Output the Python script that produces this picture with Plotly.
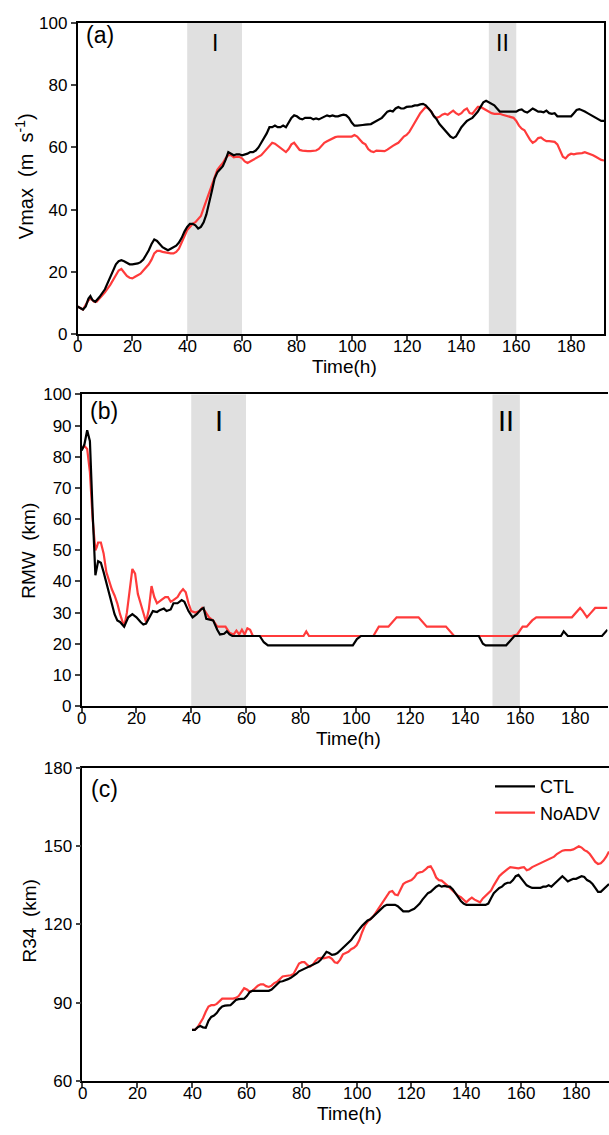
import plotly.graph_objects as go

# ---------------- Data ----------------
# Panel (a) Vmax (m/s)
a_ctl_t = [0,1,2,3,4,4.7,5.5,6.5,8,10,11,12,13,14,15,16,17,18,19,20,22,23,24,25,26,27,28,29,30,31,32,33,34,35,36,37,38,39,40,41,42,43,44,45,46,47,48,49,50,51,52,53,54,55,56,57,58,59,60,62,63,64,65,66,67,68,69,70,71,72,73,74,75,76,77,78,79,80,81,82,83,84,85,86,87,88,89,90,91,92,93,94,95,96,97,98,99,100,101,102,103,104,105,106,107,108,109,110,111,112,113,114,115,116,117,118,119,120,121,122,123,124,125,126,127,128,129,130,131,132,133,134,135,136,137,138,139,140,141,142,143,144,145,146,147,148,149,150,151,152,153,154,155,157,159,160,161,162,163,164,165,166,167,168,169,170,171,172,173,174,175,176,177,178,179,180,181,182,183,184,185,186,187,188,189,190,191,192]
a_ctl_v = [9,8.5,8,9,11.5,12.3,11,10.5,12,14.5,16.5,18.5,20.5,22.5,23.5,23.8,23.5,23,22.5,22.5,22.8,23.2,24,25.5,27,29,30.5,30,29,28,27.5,27,27.5,28,28.5,29.5,31,33,34.5,35.5,35.5,35,34,34.5,36,38.5,42,46,50,52,53,54,56,58.5,58,57.5,57.8,57.8,57.5,58,58.5,58.5,59,60,61.5,63,64.5,66.5,66.5,67,66.5,66.5,67,66.5,68,69.5,70.3,70,69.3,69,69.5,69.5,69.5,69,69.3,69,69.5,70,70.3,70,70.3,70,70,70.3,70.5,70.3,69.5,68,67,67,67.2,67.2,67.3,67.5,67.5,68,68.5,69,69.5,70.5,71.5,71.8,71.5,72.5,73,72.5,72.5,73,73,73.2,73.5,73.5,73.8,74,73.5,72.5,71.5,70,69,67.5,66.5,65.5,64.5,63.5,63,63.5,65,66.5,67.5,68.5,69,69.5,70.5,71.5,73,74.5,75,74.5,74,73.5,72.5,71.5,71.5,71.5,71.5,71.5,72,72.2,71.5,71.2,71.8,72.5,72,71.5,71.5,71.3,71.8,71,70.8,71,70,70,70,70.2,70,70,71,72,72.3,72,71.5,71,70.5,70,69.5,69,68.5,68.5]
a_noadv_t = [0,1,2,3,4,5,6,7,8,10,12,14,15,16,17,18,19,20,21,22,23,24,25,26,27,28,29,30,31,32,33,34,35,36,37,38,39,40,41,42,43,44,45,46,47,48,49,50,51,52,53,54,55,56,57,58,59,60,61,62,63,64,65,66,67,68,69,70,71,72,73,74,75,76,77,78,79,80,81,82,83,84,85,86,87,88,89,90,91,92,93,94,95,96,97,98,99,100,101,102,103,104,105,106,107,108,109,110,111,112,113,114,115,116,117,118,119,120,121,122,123,124,125,126,127,128,129,130,131,132,133,134,135,136,137,138,139,140,141,142,143,144,145,146,147,148,149,150,151,152,153,154,155,156,157,158,159,160,161,162,163,164,165,166,167,168,169,170,171,172,173,174,175,176,177,178,179,180,181,182,183,184,185,186,187,188,189,190,191,192]
a_noadv_v = [9,8.5,8,9.5,11,11.5,10.5,10.5,11.5,13.5,16,19,20.5,21,20,18.8,18.2,18,18.5,19,19.5,20.5,21.5,22.5,24,26,26.8,26.8,26.5,26.3,26.2,26,26,26.5,27.5,29.5,32,33.5,34.5,35.5,36,37,38,40.5,43,45.5,48,50.5,52.8,54,55,56.5,57.5,57.5,56.8,57,57,56.5,55.5,55,55.5,56,56.5,57,57.5,58.5,59.5,60.5,61.5,61.2,60.5,59.8,59,58.5,59.5,61,61.5,60.5,59.2,59,58.8,58.8,58.8,58.8,59,59.5,60.5,61.5,62,62.5,63,63.3,63.5,63.4,63.5,63.5,63.6,63.5,64,63.5,62.5,61.5,61,59.5,58.8,58.5,59,59,58.8,58.8,59.3,60,60.5,61,61.5,62.5,63.5,64,65,66.5,68,69.5,71,72,73,72.5,71.5,70,69.5,69.8,70.5,70.8,70.5,71.2,71.8,71,70.5,71,72,72.5,71,70.8,72,73,73,72.5,72,71.5,71,70.8,70.8,70.8,70.5,70.2,70,69.8,69.5,68.5,67,66,65.5,64,62.5,61.5,62,63,63.2,62.5,62,62,62,61.8,61,59,57,56.5,57.5,58,57.8,58,58,58.2,58.5,58.2,57.8,57.5,57,56.5,56,55.8]

# Panel (b) RMW (km)
b_ctl_t = [0,1,2,3,4,5,6,7,8,10,12,13,14,15.5,17,18.5,20,21.5,22.5,23.5,25,26,27.5,28.5,30,31,32.5,33.5,35,36.5,37.5,39,40.5,42,43.5,44.5,45.5,47,48,49.5,50.5,52,53,54,55,65,66.5,68,99,100.5,102,145,146.5,147.5,155,156.5,158,175,176,177.5,190,192]
b_ctl_v = [82,84,88.5,85,62,42,46.5,46,43,36,29.5,27.5,27,25.5,28.5,29.5,28.5,27,26.2,26.5,29,30.5,30.2,30.8,31.3,30.5,31,33,33,34,33.5,30.5,28.5,29.5,31,31.5,28,27.8,27.5,24.5,23,23.2,24,23,22.5,22.5,20.5,19.5,19.5,21.5,22.5,22.5,20,19.5,19.5,21,22.5,22.5,24,22.5,22.5,24.5]
b_noadv_t = [0,1,2,3,4,5,5.5,6,7,8,9,10,11,12,13,14,15.5,16.5,17.5,18.5,19.5,20.5,21.5,22.5,23.5,24.5,25.5,26.5,27.5,29,30.5,31.5,32.5,33.5,35,36,37,38,39,40,41.5,43,44,45,46.5,48,49.5,51,52.5,54,55.5,56.5,57.5,58.5,59.5,60.5,61.5,62.5,81,82,83,106.5,108.5,112,115,123,126,133,136,157,159,161,162.5,164.5,166,179,180.5,182,183,184.5,186,187.5,192]
b_noadv_v = [82.5,83.5,82.5,75,60,50,51,52.5,52.5,49,43,40,37.5,35.5,33,29.5,25.5,30,38,44,42.5,36,33,30,27,31,38.5,35,33,34,35,35,33.5,34,35,36.5,37.5,36.5,33,30.5,30,30.5,31.5,30.5,28.5,27.5,25.5,25.5,25.5,23.5,23,24.2,23,24.5,23,25,24.5,22.5,22.5,24,22.5,22.5,25.5,25.5,28.5,28.5,25.5,25.5,22.5,22.5,23,25.5,25.5,27.5,28.5,28.5,30,31.5,30.5,28.5,30,31.5,31.5]

# Panel (c) R34 (km)
c_ctl_t = [40,41,42,43,44,45,46,47,48,49,50,51,52,53,54,55,56,57,58,59,60,61,62,63,65,67,68,69,70,71,72,73,74,75,76,77,78,79,80,81,82,83,84,85,86,87,88,89,90,91,92,93,94,95,96,97,98,99,100,101,102,103,104,105,106,107,108,109,110,111,112,113,114,115,116,117,118,119,120,121,122,123,124,125,126,127,128,129,130,131,132,133,134,135,136,137,138,139,140,147,148,149,150,151,152,153,154,155,156,157,158,159,160,161,162,163,164,165,166,167,168,169,170,171,172,173,174,175,176,177,178,179,180,181,182,183,184,185,186,187,188,189,190,191,192]
c_ctl_v = [79.5,79.5,80.5,81,80.5,80.3,83,84.5,85,86,87.5,88.5,88.8,88.8,89,90,91,91.3,91.3,91.5,92.5,94,94.5,94.5,94.5,94.5,94.5,95,96,97,98,98.2,98.5,99,99.5,100.2,101,102,102.5,102.8,103.5,104,104.5,104.8,105.5,106.5,108,109.5,109,108.3,108.5,109,110,111,112,113,114,115.5,117,118.5,119.5,120.5,121.5,122,123,124,125,126,127,127.5,127.5,127.5,127.5,127,126,125,125,125,125.5,126,127,128,129.5,131,132,132.5,133.5,134.5,135,134.5,134.8,134.5,134.5,133.5,132,130.5,129,128,127.5,127.5,128,130,132,133,134,134.5,135.5,136,136,137,138.5,139,137.5,136,135,134.5,134,134,134,134,134.5,134.5,135,134.5,135.5,136.5,137.5,138.5,137.5,136.5,137,137.5,137.5,138,138.5,138.2,137,136.5,135.5,134,132.5,132.5,133.5,134.5,135.5]
c_noadv_t = [40,41,42,43,44,45,46,47,48,49,50,51,53,55,56,57,58,59,60,61,62,63,64,65,66,67,68,69,70,71,72,73,74,75,76,77,78,79,80,81,82,83,84,85,86,87,88,89,90,91,92,93,94,95,96,97,98,99,100,101,102,103,104,105,106,107,108,109,110,111,112,113,114,115,116,117,118,119,120,121,122,123,124,125,126,127,128,129,130,131,132,133,134,135,136,137,138,139,140,141,142,143,144,145,146,147,148,149,150,151,152,153,154,155,156,157,158,159,160,161,162,163,164,165,166,167,168,169,170,171,172,173,174,175,176,177,178,179,180,181,182,183,184,185,186,187,188,189,190,191,192]
c_noadv_v = [79.5,79.5,80.5,82,84,86.5,88.5,89,89,89.5,90.5,91.5,91.5,91.5,91.8,92.5,94,95.5,95,94.2,94.5,95.5,96.5,97,97,96.3,96,96.5,97.5,98,99,100,100.2,100.3,100.5,101,103,105,105.5,105.5,104.5,103.8,104.5,106,107,107.2,107,107.2,107.5,106.8,105.5,105.2,106.5,108.5,109,109.5,110.5,111,112,114,117,119.5,121,122,123,124.5,126,127.5,129,131,132.5,132.8,131.5,131.2,133.5,135.5,136.2,136.5,137,138,139.5,140,140.2,141,142,142.3,140.5,138,137,136.8,136,135,134,133,132,131,130.5,129.5,128.5,129.5,130.3,129.5,129,128.5,130,131,132,133,135,137,138.5,139.5,140.5,141.2,142,141.8,141.5,141.5,141.8,142,140.8,141.2,142,142.5,143,143.5,143.8,144.5,145,145.2,146,147,147.8,148.3,148.5,148.5,148.5,148.8,149.5,150,149.5,148.5,148,147,145.5,144,143.2,143.5,144.5,146,148]

x_ticks = [0, 20, 40, 60, 80, 100, 120, 140, 160, 180]
a_yticks = [0, 20, 40, 60, 80, 100]
b_yticks = [0, 10, 20, 30, 40, 50, 60, 70, 80, 90, 100]
c_yticks = [60, 90, 120, 150, 180]
shade_periods = [(40, 60, "I"), (150, 160, "II")]

FONT = "Liberation Sans Narrow, Liberation Sans, Arial, sans-serif"
W, H = 609, 1135
BLACK = "#000000"
RED = "#ff3b3b"

fig = go.Figure()


def px_x(p):
    return p / W


def px_y(p):
    return 1 - p / H


# name, xaxis, yaxis, left px, right px, top px, bottom px, yrange, yticks,
# y title, y-title x px, y-title y px, y-title size, label, label y,
# roman y, roman size
panels = [
    ("a", "x", "y", 77.5, 604, 14, 331, [0, 100], a_yticks,
     "Vmax  (m  s<sup>-1</sup>)", 24, 170, 20, "(a)", 0.962, 0.935, 23),
    ("b", "x2", "y2", 81.7, 607.5, 392, 709, [0, 100], b_yticks,
     "RMW  (km)", 29, 551, 19, "(b)", 0.946, 0.916, 29),
    ("c", "x3", "y3", 82.3, 609, 772, 1090, [60, 180], c_yticks,
     "R34  (km)", 29, 928, 19, "(c)", 0.932, None, None),
]

series = {
    "a": (a_ctl_t, a_ctl_v, a_noadv_t, a_noadv_v),
    "b": (b_ctl_t, b_ctl_v, b_noadv_t, b_noadv_v),
    "c": (c_ctl_t, c_ctl_v, c_noadv_t, c_noadv_v),
}

layout = dict(
    width=W, height=H,
    margin=dict(l=0, r=0, t=0, b=0),
    paper_bgcolor="white", plot_bgcolor="white",
    font=dict(family=FONT, size=16, color="black"),
    showlegend=True,
)

shapes = []
annotations = []
for (name, xa, ya, xl, xr, yt, yb, yr, yt_vals, ytitle, ytx, yty, yts,
     lab, laby, romy, roms) in panels:
    xkey = "xaxis" + xa[1:]
    ykey = "yaxis" + ya[1:]
    layout[xkey] = dict(
        domain=[px_x(xl), min(1.0, px_x(xr))],
        range=[0, 192], anchor=ya,
        tickvals=x_ticks, ticks="outside", ticklen=5, tickwidth=1.5,
        showline=True, linecolor="black", linewidth=1.5,
        mirror=True, showgrid=False, zeroline=False,
        showticklabels=False,
    )
    layout[ykey] = dict(
        domain=[px_y(yb), px_y(yt)],
        range=yr, anchor=xa,
        tickvals=yt_vals, ticks="outside", ticklen=5, tickwidth=1.5,
        showline=True, linecolor="black", linewidth=1.5,
        mirror=(name == "a"), showgrid=False, zeroline=False,
        tickfont=dict(size=17, family=FONT),
    )
    # x tick labels at the axis' tick values, tight under the axis
    for tv in x_ticks:
        annotations.append(dict(xref=xa, yref="paper", x=tv, y=px_y(yb + 1),
                                xanchor="center", yanchor="top",
                                text=str(tv), showarrow=False,
                                font=dict(size=17, family=FONT)))
    # axis titles as annotations
    annotations.append(dict(xref="paper", yref="paper",
                            x=px_x((xl + min(xr, 609)) / 2 + 4), y=px_y(yb + 33),
                            xanchor="center", yanchor="middle",
                            text="Time(h)", showarrow=False,
                            font=dict(size=19, family=FONT)))
    annotations.append(dict(xref="paper", yref="paper",
                            x=px_x(ytx), y=px_y(yty),
                            xanchor="center", yanchor="middle", textangle=-90,
                            text=ytitle, showarrow=False,
                            font=dict(size=yts, family=FONT)))
    if romy is not None:
        for x0, x1, roman in shade_periods:
            shapes.append(dict(type="rect", xref=xa, yref=ya + " domain",
                               x0=x0, x1=x1, y0=0, y1=1,
                               fillcolor="#e0e0e0", line=dict(width=0), layer="below"))
            annotations.append(dict(xref=xa, yref=ya + " domain",
                                    x=(x0 + x1) / 2, y=romy, yanchor="middle",
                                    text=roman, showarrow=False,
                                    font=dict(size=roms, family="Liberation Sans, Arial")))
    annotations.append(dict(xref=xa + " domain", yref=ya + " domain",
                            x=0.012, y=laby, xanchor="left", yanchor="middle",
                            text=lab, showarrow=False,
                            font=dict(size=23, family="Liberation Sans, Arial")))

    ct, cv, nt, nv = series[name]
    fig.add_trace(go.Scatter(x=nt, y=nv, mode="lines", xaxis=xa, yaxis=ya,
                             line=dict(color=RED, width=2.2), name="NoADV",
                             showlegend=(name == "c"), legendrank=2))
    fig.add_trace(go.Scatter(x=ct, y=cv, mode="lines", xaxis=xa, yaxis=ya,
                             line=dict(color=BLACK, width=2.2), name="CTL",
                             showlegend=(name == "c"), legendrank=1))

layout["shapes"] = shapes
layout["annotations"] = annotations
layout["legend"] = dict(x=px_x(490), y=px_y(772), xanchor="left", yanchor="top",
                        bgcolor="rgba(0,0,0,0)", font=dict(size=18, family=FONT),
                        itemwidth=40, tracegroupgap=0, traceorder="normal")

fig.update_layout(**layout)
fig.write_html("out.html")
